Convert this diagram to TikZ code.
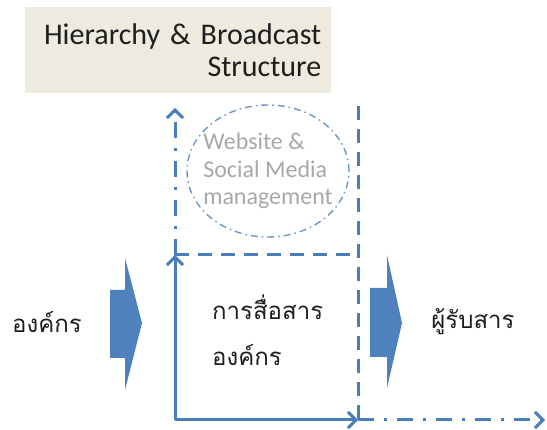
\documentclass[tikz,border=0pt]{standalone}
\usepackage{fontspec}
\setmainfont{Carlito}
\newfontfamily\thaifont[Script=Thai]{Loma}
\usetikzlibrary{arrows.meta,shapes.geometric}
\definecolor{lineblue}{HTML}{4A7EBB}
\definecolor{fillblue}{HTML}{4F81BD}
\definecolor{ringblue}{HTML}{6A96CC}
\definecolor{titlebg}{HTML}{EDEBE0}
\definecolor{textdark}{HTML}{1E1E1E}
\definecolor{webgray}{HTML}{A8A8A8}
\tikzset{
  titlebox/.style={fill=titlebg, minimum width=306pt, minimum height=86pt,
    text width=286pt, inner xsep=10pt, inner ysep=0pt, align=right,
    font=\fontsize{30}{32.5}\selectfont, text=textdark},
  thaitext/.style={font=\thaifont\fontsize{24}{46}\selectfont, text=textdark, inner sep=0pt},
  webring/.style={ellipse, draw=ringblue, line width=1.4pt, minimum width=162pt,
    minimum height=132pt, dash pattern=on 7pt off 4pt on 1.5pt off 4pt},
  webtext/.style={font=\fontsize{24}{27.5}\selectfont, text=webgray, align=left, inner sep=0pt},
  solidarrow/.style={draw=lineblue, line width=3pt, -{Straight Barb[length=8pt,width=16pt]}},
  dashline/.style={draw=lineblue, line width=3pt, dash pattern=on 14pt off 9pt},
  dashdotarrow/.style={draw=lineblue, line width=3pt, dash pattern=on 16pt off 10pt on 3pt off 10pt,
    -{Straight Barb[length=8pt,width=16pt]}},
  blockarrow/.style={fill=fillblue, draw=none}
}
\begin{document}
\begin{tikzpicture}[x=1pt,y=-1pt]
\useasboundingbox (0,0) rectangle (547,430);
% title
\node[titlebox, anchor=north west] (title) at (25,7) {Hierarchy \& Broadcast\\Structure};
% coordinates of the frame
\coordinate (o) at (175,420);
\coordinate (tl) at (175,255);
\coordinate (tr) at (358,255);
\coordinate (br) at (358,420);
\coordinate (topL) at (175,108);
\coordinate (topR) at (358,106);
\coordinate (endR) at (545,420);
% website ellipse
\node[webring] (ring) at (268,171) {};
\node[webtext] (web) at (ring.center) {Website \&\\Social Media\\management};
% dashed box lines
\draw[dashline] (tl) -- (tr);
\draw[dashline] (topR) -- (br);
\draw[dashdotarrow] (tl) -- (topL);
\draw[dashdotarrow] (br) -- (endR);
% solid axes
\draw[solidarrow] (o) -- (tl);
\draw[solidarrow] (o) -- (br);
% block arrows
\fill[blockarrow] (110,290) -- (125,290) -- (125,258) -- (142,323) -- (125,390) -- (125,358) -- (110,358) -- cycle;
\fill[blockarrow] (370,288) -- (387,288) -- (387,255) -- (402,323) -- (387,388) -- (387,357) -- (370,357) -- cycle;
% texts
\node[thaitext] (org) at (47,322) {องค์กร};
\node[thaitext, align=left, anchor=west] (comm) at (212,330) {การสื่อสาร\\องค์กร};
\node[thaitext] (recv) at (473,322) {ผู้รับสาร};
\end{tikzpicture}
\end{document}
